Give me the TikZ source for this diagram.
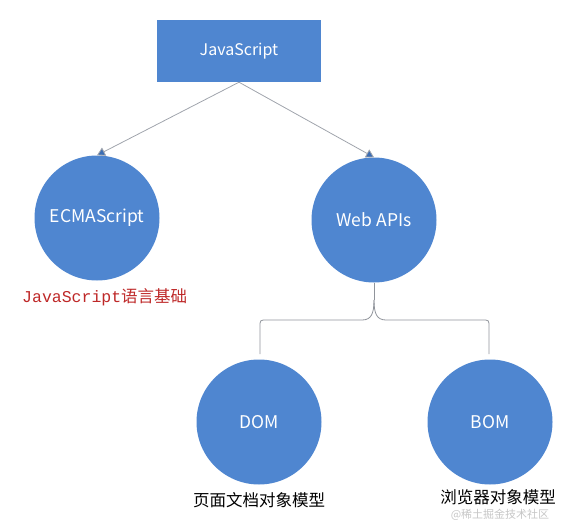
\documentclass[tikz,border=0pt]{standalone}
\usepackage{fontspec}
\setmainfont{Noto Sans CJK SC}
\newfontfamily\codefont{Liberation Mono}
\usepackage{tikz}
\usetikzlibrary{arrows.meta, positioning}
\definecolor{mainBlue}{RGB}{79,134,208}
\definecolor{tipBlue}{RGB}{60,110,180}
\definecolor{noteRed}{RGB}{190,40,40}
\definecolor{lineGray}{RGB}{160,164,172}

\begin{document}
\begin{tikzpicture}[x=1pt, y=-1pt,
    box/.style={fill=mainBlue, minimum width=164pt, minimum height=62pt, text=white, font=\fontsize{16}{18}\selectfont},
    ball/.style={circle, fill=mainBlue, minimum size=125pt, inner sep=0pt, text=white, font=\fontsize{17.5}{20}\selectfont},
    caption/.style={font=\fontsize{16.5}{18}\selectfont, inner sep=0pt},
    link/.style={lineGray, thick, -{Triangle[width=9pt, length=8pt, fill=tipBlue]}},
    brace/.style={lineGray!90!black, thick}]
    \useasboundingbox (0,0) rectangle (570,532);

    % top level
    \node[box] (js) at (239,51) {JavaScript};

    % second level
    \node[ball] (ecma) at (97,218) {ECMAScript};
    \node[ball] (webapi) at (374,220) {Web APIs};
    \node[caption, text=noteRed, anchor=west] (base) at (22,297) {{\codefont JavaScript}语言基础};

    % third level
    \node[ball] (dom) at (259,422) {DOM};
    \node[ball] (bom) at (490,422) {BOM};
    \node[caption] (domtext) at (259,500) {页面文档对象模型};
    \node[caption] (bomtext) at (498,497) {浏览器对象模型};
    \node[font=\fontsize{11}{12}\selectfont, text=gray!45, inner sep=0pt] (mark) at (500,515) {@稀土掘金技术社区};

    \draw[link] (js.south) -- (ecma.north);
    \draw[link] (js.south) -- (webapi.north);

    % brace under Web APIs
    \coordinate (tip) at (374,300);
    \coordinate (bl) at (260,354);
    \coordinate (br) at (489,354);
    \draw[brace] (webapi.south) -- (tip);
    \draw[brace] (bl) -- (260,327) .. controls (260,320) .. (267,320) -- (362,320)
        .. controls (371,320) and (374,314) .. (tip);
    \draw[brace] (br) -- (489,327) .. controls (489,320) .. (482,320) -- (386,320)
        .. controls (377,320) and (374,314) .. (tip);
\end{tikzpicture}
\end{document}
